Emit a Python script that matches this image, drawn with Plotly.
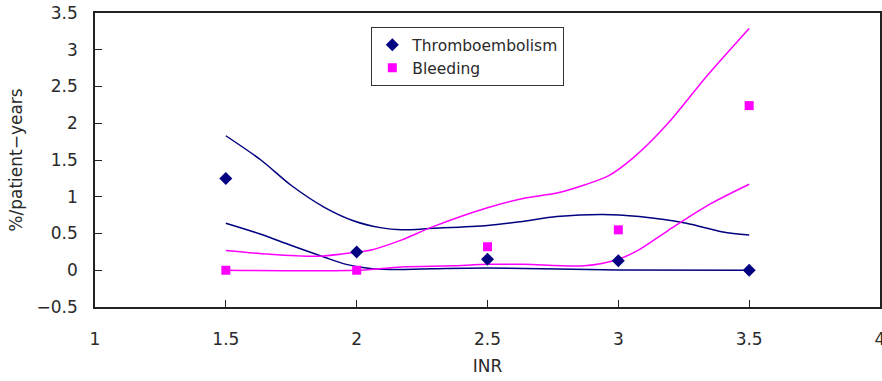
import plotly.graph_objects as go

# Observed rates
inr = [1.5, 2.0, 2.5, 3.0, 3.5]
thrombo = [1.25, 0.25, 0.15, 0.13, 0.0]
bleeding = [0.0, 0.0, 0.32, 0.55, 2.24]

# Confidence band curves
thr_up_x = [1.5, 1.634, 1.748, 1.875, 1.99, 2.09, 2.17, 2.29, 2.5, 2.625, 2.765, 2.94, 3.08, 3.26, 3.40, 3.5]
thr_up_y = [1.83, 1.50, 1.16, 0.86, 0.67, 0.58, 0.55, 0.57, 0.61, 0.66, 0.73, 0.76, 0.73, 0.64, 0.52, 0.48]
thr_lo_x = [1.5, 1.634, 1.748, 1.875, 1.96, 2.06, 2.17, 2.29, 2.5, 3.0, 3.5]
thr_lo_y = [0.64, 0.49, 0.34, 0.18, 0.08, 0.02, 0.01, 0.02, 0.03, 0.005, 0.0]
ble_up_x = [1.5, 1.66, 1.85, 1.99, 2.06, 2.17, 2.29, 2.5, 2.64, 2.765, 2.87, 2.96, 3.06, 3.19, 3.34, 3.5]
ble_up_y = [0.27, 0.22, 0.19, 0.24, 0.28, 0.41, 0.59, 0.85, 0.98, 1.05, 1.16, 1.28, 1.54, 2.0, 2.65, 3.29]
ble_lo_x = [1.5, 2.0, 2.17, 2.36, 2.5, 2.64, 2.87, 3.0, 3.08, 3.19, 3.34, 3.5]
ble_lo_y = [0.0, 0.0, 0.045, 0.06, 0.08, 0.08, 0.06, 0.15, 0.28, 0.54, 0.88, 1.17]

x_ticks = [1, 1.5, 2, 2.5, 3, 3.5, 4]
x_tick_labels = ["1", "1.5", "2", "2.5", "3", "3.5", "4"]
y_ticks = [-0.5, 0, 0.5, 1, 1.5, 2, 2.5, 3, 3.5]
y_tick_labels = ["\u22120.5", "0", "0.5", "1", "1.5", "2", "2.5", "3", "3.5"]

NAVY = "#000080"
MAG = "#FF00FF"
TXT = "#2a2a2a"
FONT = "DejaVu Sans, sans-serif"

fig = go.Figure()
for xs, ys, c in [(thr_up_x, thr_up_y, NAVY), (thr_lo_x, thr_lo_y, NAVY),
                  (ble_up_x, ble_up_y, MAG), (ble_lo_x, ble_lo_y, MAG)]:
    fig.add_trace(go.Scatter(x=xs, y=ys, mode="lines", line=dict(color=c, width=1.5, shape="spline", smoothing=0.8),
                             showlegend=False, hoverinfo="skip"))

fig.add_trace(go.Scatter(x=inr, y=thrombo, mode="markers", name="Thromboembolism",
                         marker=dict(symbol="diamond", color=NAVY, size=10)))
fig.add_trace(go.Scatter(x=inr, y=bleeding, mode="markers", name="Bleeding",
                         marker=dict(symbol="square", color=MAG, size=9)))

fig.update_layout(
    width=882, height=381,
    margin=dict(l=95, r=2, t=13, b=74, autoexpand=False),
    paper_bgcolor="white", plot_bgcolor="white",
    font=dict(family=FONT, color=TXT, size=17),
    legend=dict(x=0.352, y=0.952, xanchor="left", yanchor="top",
                bordercolor="#333333", borderwidth=1, bgcolor="white",
                font=dict(size=15.5, color=TXT), itemwidth=30, tracegroupgap=0),
    xaxis=dict(range=[1, 4], tickvals=x_ticks, ticktext=x_tick_labels, automargin=False,
               showgrid=False, zeroline=False, showline=True, linecolor="#222222", linewidth=1.5,
               mirror=True, ticks="inside", ticklen=7, tickcolor="#222222",
               ticklabelstandoff=16, ticklabeloverflow="allow",
               title=dict(text="INR", font=dict(size=17), standoff=12)),
    yaxis=dict(range=[-0.5, 3.5], tickvals=y_ticks, ticktext=y_tick_labels, automargin=False,
               showgrid=False, zeroline=False, showline=True, linecolor="#222222", linewidth=1.5,
               mirror=True, ticks="inside", ticklen=7, tickcolor="#222222",
               ticklabelstandoff=12, ticklabeloverflow="allow",
               title=dict(text="%/patient\u2212years", font=dict(size=17), standoff=10)),
)

fig.write_html("out.html", config={"displayModeBar": False},
               post_script="document.body.style.margin='0';")
